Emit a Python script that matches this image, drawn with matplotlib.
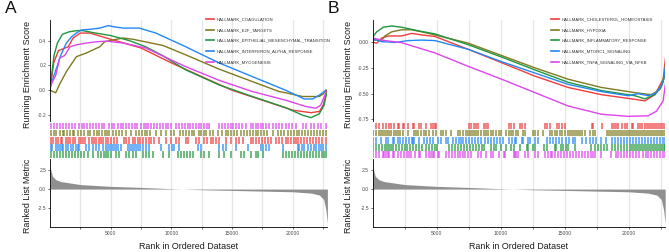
import numpy as np
import matplotlib
matplotlib.use("Agg")
import matplotlib.pyplot as plt

plt.rcParams['font.family'] = ['Liberation Sans', 'DejaVu Sans']

W, H = 669, 252
N_GENES = 22850

# ---------------- panel A data ----------------
labels_a = ["HALLMARK_COAGULATION", "HALLMARK_E2F_TARGETS",
            "HALLMARK_EPITHELIAL_MESENCHYMAL_TRANSITION",
            "HALLMARK_INTERFERON_ALPHA_RESPONSE", "HALLMARK_MYOGENESIS"]

coag_rank = [0, 300, 700, 1000, 1500, 1900, 2500, 3300, 5000, 7500, 10000, 12500, 15000,
             17500, 20000, 21500, 22200, 22500, 22700, 22800]
coag_es = [0.0, 0.22, 0.32, 0.33, 0.35, 0.42, 0.46, 0.46, 0.41, 0.34, 0.22, 0.11, 0.0,
           -0.08, -0.16, -0.18, -0.17, -0.12, -0.05, 0.0]

e2f_rank = [0, 470, 800, 1350, 2170, 3000, 4100, 4500, 5200, 6020, 6840, 9310, 11180, 13930,
            16670, 18870, 19420, 20800, 22170, 22500, 22720]
e2f_es = [0.0, -0.02, 0.05, 0.15, 0.27, 0.30, 0.35, 0.39, 0.405, 0.42, 0.41, 0.36, 0.285, 0.17,
          0.07, -0.01, -0.02, -0.05, -0.05, -0.03, 0.0]

emt_rank = [0, 330, 610, 1020, 1570, 2260, 2670, 3770, 5000, 6510, 7880, 9260, 11180, 13930,
            16670, 19420, 20800, 21500, 22170, 22580, 22780]
emt_es = [0.016, 0.28, 0.38, 0.45, 0.47, 0.48, 0.48, 0.46, 0.44, 0.40, 0.35, 0.28, 0.164, 0.043,
          -0.05, -0.14, -0.20, -0.22, -0.19, -0.12, -0.02]

ifn_rank = [0, 330, 610, 880, 1350, 1780, 2170, 2580, 3280, 4100, 4800, 5300, 6000, 7350, 8720,
            11180, 13930, 16670, 19420, 20520, 20930, 21620, 22170, 22720]
ifn_es = [0.016, 0.12, 0.2, 0.28, 0.38, 0.43, 0.46, 0.485, 0.49, 0.5, 0.52, 0.51, 0.5, 0.5, 0.46,
          0.35, 0.22, 0.11, 0.0, -0.05, -0.07, -0.07, -0.04, 0.0]

myo_rank = [0, 470, 800, 1220, 1640, 2170, 3000, 3830, 4650, 6020, 7880, 11180, 13930, 16670,
            19420, 21070, 21900, 22300, 22720]
myo_es = [0.03, 0.12, 0.26, 0.28, 0.35, 0.365, 0.38, 0.39, 0.395, 0.38, 0.34, 0.19, 0.08, -0.01,
          -0.08, -0.13, -0.145, -0.12, -0.02]

# barcode hits (rank positions), panel A
myo_hits = [60, 300, 550, 800, 1050, 1300, 1550, 1800, 2050, 2400, 2600, 2800, 3050, 3300, 3550,
            3800, 4050, 4300, 4450, 4840, 5090, 5250, 5580, 5830, 6000, 6250, 6500, 6750, 7000,
            7150, 7470, 7720, 7890, 8100, 8350, 8600, 8850, 9100, 9290, 9530, 9750, 9950, 10360,
            10600, 10850, 11100, 11350, 11500, 11760, 12010, 12250, 12420, 12660, 12900, 13080,
            13900, 14150, 14400, 14650, 14890, 15060, 15300, 15550, 15800, 16130, 16540, 16750,
            16950, 17150, 17350, 17520, 17770, 18000, 18350, 18600, 18850, 19100, 19420, 19670,
            19900, 20250, 20820, 21070, 21480, 21730, 22060, 22300, 22720]
e2f_hits = [60, 300, 500, 800, 1050, 1150, 1400, 1650, 1900, 2000, 2300, 2550, 2800, 3100, 3300,
            3600, 3850, 4050, 4300, 4550, 4700, 4850, 5150, 5400, 5650, 5950, 6240, 6650, 7060,
            7300, 7550, 7800, 7990, 8200, 8710, 9120, 9530, 9950, 10200, 10700, 10950, 11200,
            11450, 11700, 11900, 12250, 12420, 12700, 12850, 13150, 13400, 13810, 14150, 14480,
            14700, 14890, 15150, 15400, 15700, 15950, 16200, 16450, 16700, 16950, 17150, 17350,
            17600, 17850, 18350, 18800, 19050, 19300, 19600, 19830, 20100, 20350, 20500, 20750,
            21000, 21250, 21500, 21750, 22000, 22250, 22500, 22720]
coag_hits = [60, 250, 500, 700, 900, 1000, 1300, 1500, 1650, 1900, 2050, 2350, 2550, 2750, 2900,
             3250, 3500, 3650, 3800, 4000, 4180, 4400, 4600, 4760, 5000, 5250, 5500, 6080, 6240,
             6500, 6800, 7000, 7220, 7390, 7640, 7890, 8130, 8300, 8550, 8940, 9530, 9950, 10360,
             10600, 11180, 11400, 12010, 12250, 12670, 12960, 13240, 13400, 13650, 13880, 14480,
             14890, 15300, 15600, 15880, 16540, 16750, 16950, 17200, 17450, 17700, 17940, 18200,
             18600, 18850, 19100, 19420, 19600, 19830, 20100, 20250, 20450, 20700, 20900, 21150,
             21400, 21650, 21900, 22150, 22400, 22720]
ifn_hits = [60, 200, 470, 650, 800, 950, 1100, 1290, 1460, 1710, 1870, 2120, 2280, 2370, 2940,
            3190, 3520, 3770, 4010, 4340, 4590, 4750, 4920, 5080, 5250, 5410, 5580, 5830, 6400,
            6570, 6730, 6900, 7060, 7230, 7390, 7640, 7890, 8130, 9120, 9780, 10030, 10190, 10600,
            12170, 12420, 13900, 14230, 14480, 15300, 16290, 17360, 17530, 17770, 18020, 19170,
            20410, 20500, 20740, 20900, 21230, 21480, 21730, 21890, 22140, 22310, 22480, 22720]
emt_hits = [60, 300, 550, 800, 1050, 1300, 1550, 1800, 2050, 2280, 2530, 2780, 3100, 3520, 3930,
            4180, 4420, 4590, 4760, 5000, 5410, 5660, 6240, 6490, 6810, 7060, 7640, 7890, 8130,
            8460, 9290, 9780, 10530, 10770, 11020, 11270, 11510, 11760, 12420, 12660, 13080,
            13900, 14310, 14890, 15710, 15960, 16540, 16950, 17120, 17530, 19170, 19420, 19670,
            19910, 20160, 20410, 20660, 20900, 21150, 21400, 21650, 21890, 22140, 22390, 22600,
            22720]

# ---------------- panel B data ----------------
labels_b = ["HALLMARK_CHOLESTEROL_HOMEOSTASIS", "HALLMARK_HYPOXIA",
            "HALLMARK_INFLAMMATORY_RESPONSE", "HALLMARK_MTORC1_SIGNALING",
            "HALLMARK_TNFA_SIGNALING_VIA_NFKB"]

chol_rank = [0, 310, 700, 1220, 2260, 3050, 3830, 4870, 7470, 10080, 12680, 15280, 17880, 20480,
             21260, 22040, 22690, 22950]
chol_es = [0.0, -0.01, 0.04, 0.06, 0.06, 0.085, 0.07, 0.055, -0.07, -0.2, -0.33, -0.44, -0.51,
           -0.555, -0.57, -0.51, -0.36, -0.07]

hyp_rank = [0, 700, 960, 1480, 2260, 3050, 3830, 4870, 7470, 10080, 12680, 15280, 17880, 20480,
            21780, 22430, 22820, 22990]
hyp_es = [0.02, 0.02, 0.06, 0.1, 0.12, 0.12, 0.1, 0.07, -0.01, -0.13, -0.25, -0.36, -0.44, -0.49,
          -0.51, -0.46, -0.33, 0.0]

infl_rank = [0, 310, 830, 1480, 2260, 3570, 4870, 7470, 10080, 12680, 15280, 17880, 20480, 21260,
             22040, 22560, 22950, 22990]
infl_es = [0.05, 0.1, 0.145, 0.157, 0.145, 0.11, 0.08, -0.025, -0.145, -0.27, -0.39, -0.47, -0.52,
           -0.55, -0.51, -0.43, -0.23, 0.0]

mtor_rank = [0, 700, 1740, 2780, 3830, 4870, 7470, 10080, 12680, 15280, 17880, 19960, 20740, 21520,
             22170, 22690, 22950, 22990]
mtor_es = [0.03, 0.005, -0.003, 0.015, 0.02, 0.015, -0.07, -0.19, -0.3, -0.41, -0.48, -0.52, -0.5,
           -0.52, -0.49, -0.39, -0.17, 0.0]

tnfa_rank = [0, 700, 2260, 4870, 7470, 10080, 12680, 15280, 17880, 19960, 21520, 22170, 22690,
             22950, 22990]
tnfa_es = [0.04, 0.02, -0.005, -0.105, -0.235, -0.36, -0.49, -0.62, -0.7, -0.72, -0.715, -0.67,
           -0.57, -0.33, -0.01]

chol_hits = [260, 490, 800, 1040, 1270, 1430, 1660, 1980, 2050, 2370, 2440, 2760, 3150, 3230, 3610,
             3770, 4160, 4550, 4710, 4870, 4940, 7520, 7680, 7910, 8070, 8220, 8690, 8850, 9000,
             10640, 10800, 11030, 11500, 11660, 11890, 13460, 13610, 13850, 14400, 14550, 14790,
             15020, 17130, 17210, 17910, 18690, 18850, 19010, 19160, 19470, 19710, 19860, 20250,
             20330, 20720, 20880, 21030, 21270, 21420, 21580, 21740, 21890, 22050, 22210, 22360,
             22520, 22680, 22830]
hyp_hits = [20, 260, 490, 650, 800, 960, 1120, 1270, 1430, 1660, 1820, 1980, 2130, 2370, 2760,
            3230, 3380, 3540, 3770, 4000, 4160, 4400, 4710, 4940, 5330, 5490, 5720, 6120, 6660,
            6820, 7050, 7290, 7440, 7600, 7750, 7910, 8070, 8220, 8460, 8690, 8850, 9000, 9240,
            9390, 9630, 9860, 10020, 10410, 10640, 10800, 10960, 11190, 11350, 11740, 11890, 12520,
            12680, 12910, 13300, 13850, 14010, 14240, 14400, 14630, 14790, 15020, 15250, 15410,
            15570, 15720, 15880, 16030, 16190, 16350, 16580, 16970, 17210, 17360, 18300, 18460,
            18610, 18770, 18930, 19080, 19240, 19390, 19550, 19710, 19860, 20020, 20170, 20330,
            20490, 20640, 20800, 20960, 21110, 21270, 21420, 21580, 21740, 21890, 22050, 22210,
            22360, 22520, 22680, 22830]
mtor_hits = [20, 260, 650, 1040, 1200, 1590, 1660, 1980, 2130, 2370, 2600, 2840, 3070, 3150, 3230,
             3610, 4000, 4240, 4480, 4710, 5100, 5330, 5720, 5880, 6270, 6510, 6740, 6900, 7050,
             7290, 7520, 7750, 7990, 8220, 8460, 8770, 9000, 9240, 9470, 9710, 9940, 10180, 10640,
             10870, 11110, 11190, 11660, 11740, 12130, 12290, 12680, 12910, 13620, 13850, 14080,
             14320, 14550, 14790, 15100, 15330, 15640, 15800, 16350, 16660, 16970, 17210, 17440,
             17830, 18230, 18690, 18930, 19160, 19400, 19630, 19870, 20100, 20330, 20570, 20800,
             21030, 21270, 21500, 21740, 21970, 22210, 22440, 22680, 22830]
infl_hits = [20, 260, 490, 730, 960, 1120, 1270, 1430, 1590, 1820, 2050, 2290, 2520, 2680, 2910,
             3150, 3380, 3610, 3850, 4160, 4400, 4630, 4870, 5020, 5950, 6200, 6430, 6660, 6900,
             7130, 7370, 7600, 7830, 8070, 8300, 8530, 8690, 9240, 9470, 9630, 10020, 10410, 10800,
             11030, 11500, 12050, 12130, 12520, 12680, 13380, 13620, 14240, 14320, 14710, 14870,
             15100, 15250, 15800, 17050, 17360, 17600, 17830, 18070, 18300, 18690, 18930, 19160,
             19390, 19630, 19860, 20100, 20250, 20410, 20570, 20720, 20880, 21030, 21190, 21350,
             21500, 21660, 21820, 21970, 22130, 22290, 22440, 22600, 22760, 22830]
tnfa_hits = [20, 260, 490, 800, 880, 1040, 1200, 1270, 1590, 1660, 1980, 2200, 2440, 2680, 2840,
             2990, 3300, 3610, 3690, 4160, 4400, 4550, 4710, 4790, 5100, 5180, 5720, 5950, 6200,
             6430, 6660, 6820, 7050, 7210, 7450, 7680, 8220, 8460, 8860, 9240, 9400, 9860, 10250,
             10330, 11030, 11110, 11190, 11350, 11890, 12130, 12680, 12910, 13460, 13700, 13940,
             14010, 14240, 14470, 14710, 14950, 15180, 15420, 15650, 15880, 16110, 16350, 16580,
             16820, 17050, 17210, 17360, 17830, 18610, 19010, 19160, 19400, 19630, 19860, 20100,
             20330, 20570, 20800, 21110, 21340, 21500, 21740, 21970, 22210, 22440, 22680, 22830]

# ranked list metric (same ranking in both panels)
metric_rank = [0, 200, 480, 900, 1700, 2500, 5000, 7500, 10000, 12500, 15000, 17500, 20000,
               21500, 22200, 22550, 22730, 22850]
metric_val = [3.0, 1.7, 1.25, 1.0, 0.8, 0.6, 0.36, 0.22, 0.05, -0.09, -0.18, -0.27, -0.36,
              -0.54, -0.8, -1.4, -2.8, -4.6]

RED, OLIVE, GREEN, BLUE, MAGENTA = "#F03C3C", "#7F7A1E", "#20963E", "#2388F5", "#DD44EE"
GRID = "#E6E6E6"


def rect(x0, y0, x1, y1):
    return [x0 / W, 1 - y1 / H, (x1 - x0) / W, (y1 - y0) / H]


def style_axis(ax, ylim, yticks, yfmt):
    ax.set_xlim(0, N_GENES)
    ax.set_ylim(*ylim)
    ax.set_xticks([5000, 10000, 15000, 20000])
    ax.set_xticks(np.arange(2500, N_GENES, 5000), minor=True)
    ax.grid(axis='x', which='both', color=GRID, lw=0.9)
    ax.set_axisbelow(True)
    ax.set_yticks(yticks)
    ax.set_yticklabels([yfmt.format(v) for v in yticks])
    for s in ['top', 'right']:
        ax.spines[s].set_visible(False)
    ax.spines['left'].set_linewidth(0.6)
    ax.spines['bottom'].set_linewidth(0.6)
    ax.tick_params(axis='both', which='both', labelsize=3.6, length=1.5, width=0.5,
                   pad=1.2, colors='#333333', labelcolor='#4d4d4d')


def draw_panel(fig, x0, x1, letter, curves, hit_rows, labels, ylim_top, yticks_top, yfmt,
               lab_x, leg_x):
    ax1 = fig.add_axes(rect(x0, 20, x1, 122))
    ax2 = fig.add_axes(rect(x0, 122, x1, 158.5))
    ax3 = fig.add_axes(rect(x0, 158.5, x1, 227))

    # running enrichment score
    style_axis(ax1, ylim_top, yticks_top, yfmt)
    ax1.spines['bottom'].set_visible(False)
    ax1.tick_params(axis='x', which='both', length=0, labelbottom=False)
    for (rk, es, col), lab in zip(curves, labels):
        ax1.plot(rk, es, color=col, lw=1.0, label=lab)
    ax1.set_ylabel("Running Enrichment Score", fontsize=6.4, color='#1a1a1a')
    leg = ax1.legend(loc='upper left', bbox_to_anchor=(leg_x / W, 1 - 17.5 / H),
                     bbox_transform=fig.transFigure, frameon=False, fontsize=3.1,
                     handlelength=1.9, handletextpad=0.5, labelspacing=1.55, borderpad=0,
                     borderaxespad=0)
    for t in leg.get_texts():
        t.set_color('#333333')
    for l in leg.get_lines():
        l.set_linewidth(1.2)

    # barcode
    ax2.set_xlim(0, N_GENES)
    ax2.set_ylim(0, 5)
    ax2.set_xticks(np.arange(2500, N_GENES, 2500))
    ax2.grid(axis='x', color=GRID, lw=0.9)
    ax2.set_axisbelow(True)
    ax2.tick_params(axis='both', length=0, labelbottom=False, labelleft=False)
    for s in ax2.spines.values():
        s.set_visible(False)
    for i, (hits, col) in enumerate(hit_rows):
        top = 5 - i * 0.98 - 0.1
        ax2.vlines(hits, top - 0.9, top, colors=col, lw=1.15, alpha=0.8)

    # ranked list metric
    style_axis(ax3, (-5.05, 4.07), [2.5, 0.0, -2.5], "{:.1f}")
    ax3.fill_between(metric_rank, 0, metric_val, color='#8f8f8f', lw=0)
    ax3.set_ylabel("Ranked List Metric", fontsize=6.4, color='#1a1a1a')
    ax3.set_xlabel("Rank in Ordered Dataset", fontsize=6.4, color='#1a1a1a', labelpad=4.5)

    ax1.yaxis.set_label_coords(-(x0 - lab_x) / (x1 - x0), 0.47)
    ax3.yaxis.set_label_coords(-(x0 - lab_x) / (x1 - x0), 0.45)

    fig.text((x0 - 45) / W, 1 - 1 / H, letter, fontsize=12.5, va='top', ha='left', color='#111111')


fig = plt.figure(figsize=(W / 100, H / 100), dpi=100)

curves_a = [(coag_rank, coag_es, RED), (e2f_rank, e2f_es, OLIVE), (emt_rank, emt_es, GREEN),
            (ifn_rank, ifn_es, BLUE), (myo_rank, myo_es, MAGENTA)]
rows_a = [(myo_hits, MAGENTA), (e2f_hits, OLIVE), (coag_hits, RED), (ifn_hits, BLUE), (emt_hits, GREEN)]
draw_panel(fig, 50, 50 + N_GENES / 5000 * 60.7, 'A', curves_a, rows_a, labels_a,
           (-0.255, 0.565), [0.4, 0.2, 0.0, -0.2], "{:.1f}", 32.5, 206)

curves_b = [(chol_rank, chol_es, RED), (hyp_rank, hyp_es, OLIVE), (infl_rank, infl_es, GREEN),
            (mtor_rank, mtor_es, BLUE), (tnfa_rank, tnfa_es, MAGENTA)]
rows_b = [(chol_hits, RED), (hyp_hits, OLIVE), (mtor_hits, BLUE), (infl_hits, GREEN), (tnfa_hits, MAGENTA)]
draw_panel(fig, 372.7, 372.7 + N_GENES / 5000 * 64, 'B', curves_b, rows_b, labels_b,
           (-0.775, 0.215), [0.0, -0.25, -0.5, -0.75], "{:.2f}", 353, 551)

fig.savefig("out.png", dpi=100)
